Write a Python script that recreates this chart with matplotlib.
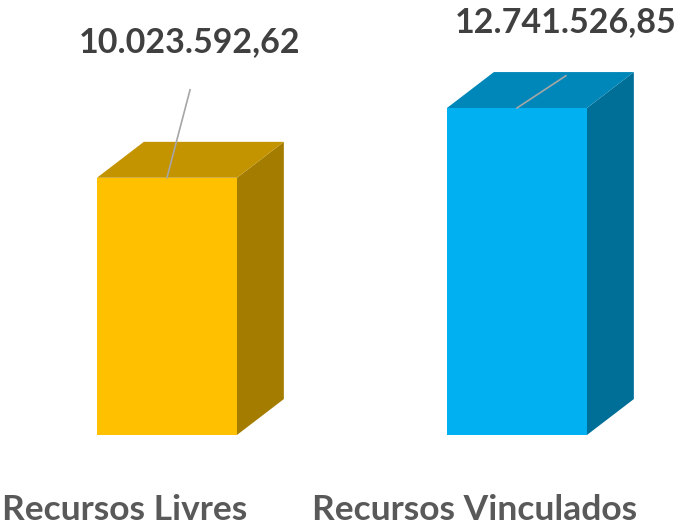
import numpy as np
import matplotlib.pyplot as plt
from matplotlib.patches import Polygon

categories = ["Recursos Livres", "Recursos Vinculados"]
values = [10023592.62, 12741526.85]
value_labels = ["10.023.592,62", "12.741.526,85"]
front_colors = ["#FFC000", "#00B0F0"]
top_colors = ["#C49300", "#0087B9"]
side_colors = ["#A47D00", "#006F98"]

# 3d look
width = 0.4
dx = 0.134
dy = 1.40e6

fig = plt.figure(figsize=(6.79, 5.25), dpi=100)
ax = fig.add_axes([0, 0, 1, 1])
ax.set_xlim(-0.477, 1.463)
ax.set_ylim(-3.507e6, 16.95e6)
ax.axis("off")

font = ["Lato", "DejaVu Sans"]

# label offsets (x, y of text; y of leader end)
lab_pos = [(0.066, 15.3e6, 13.45e6), (1.14, 16.1e6, 14.0e6)]

for i, v in enumerate(values):
    x0 = i - width / 2
    x1 = i + width / 2
    ax.add_patch(Polygon([(x1, 0), (x1 + dx, dy), (x1 + dx, v + dy), (x1, v)],
                         closed=True, fc=side_colors[i], ec="none"))
    ax.add_patch(Polygon([(x0, v), (x1, v), (x1 + dx, v + dy), (x0 + dx, v + dy)],
                         closed=True, fc=top_colors[i], ec="none"))
    ax.add_patch(Polygon([(x0, 0), (x1, 0), (x1, v), (x0, v)],
                         closed=True, fc=front_colors[i], ec="none"))
    lx, ly, le = lab_pos[i]
    ax.plot([i, lx], [v, le], color="#A6A6A6", lw=1.2)
    ax.text(lx, ly, value_labels[i], ha="center", va="center", fontsize=24.5,
            fontweight="bold", color="#404040", family=font)
    ax.text(i - 0.12, -2.92e6, categories[i], ha="center", va="center", fontsize=25.5,
            fontweight="bold", color="#595959", family=font)

fig.savefig("out.png", dpi=100)
